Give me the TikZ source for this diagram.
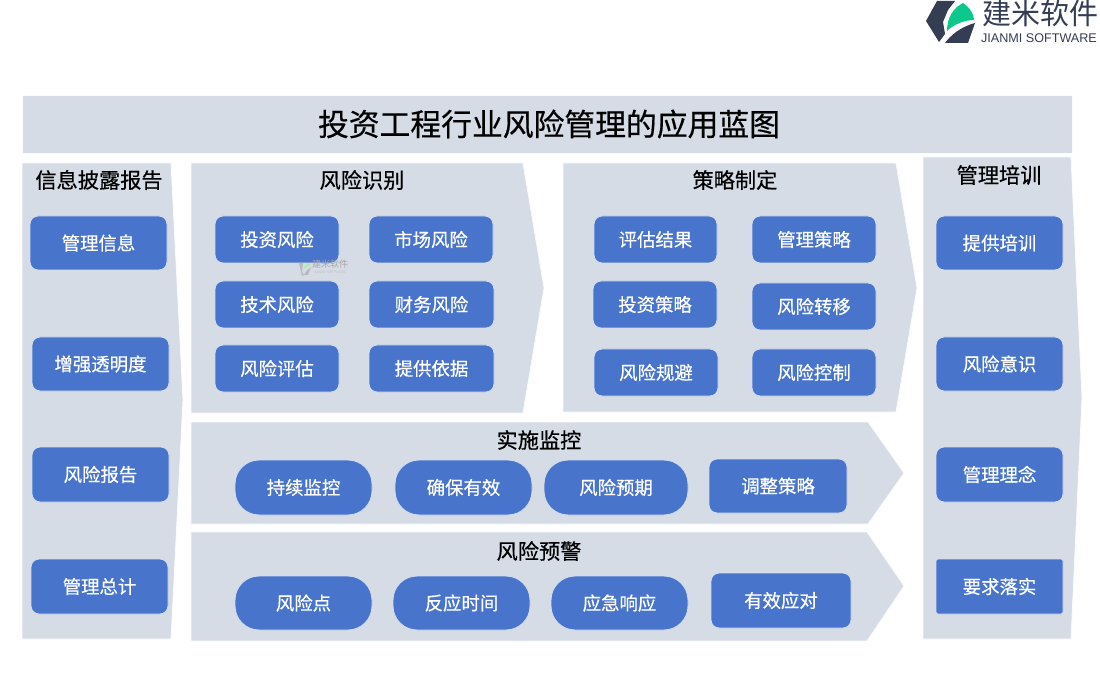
\documentclass[tikz,border=0pt]{standalone}
\usepackage{fontspec}
\setmainfont{Noto Sans CJK SC}
\setsansfont{Liberation Sans}
\newfontfamily\semib[FakeBold=0.5]{Noto Sans CJK SC}
\definecolor{panel}{HTML}{D6DCE5}
\definecolor{boxfill}{HTML}{4874CB}
\definecolor{boxline}{HTML}{D3DCEE}
\definecolor{logodark}{HTML}{353D55}
\definecolor{logogreen}{HTML}{0BC98A}
\tikzset{
  panelshape/.style={fill=panel,draw=white!90!panel,line width=0.8pt},
  boxbase/.style={fill=boxfill,draw=boxline,line width=0.9pt,text=white,inner sep=0pt,font=\semib\fontsize{18.4}{19}\selectfont},
  rbox/.style={boxbase,rounded corners=8pt},
  pillbox/.style={boxbase,rounded corners=24pt},
  flatbox/.style={boxbase,rounded corners=2pt},
  headtext/.style={text=black,inner sep=0pt,font=\semib\fontsize{21.2}{22}\selectfont},
}
\newcommand\bx[7]{\node[#7,minimum width={(#4-#2)*1pt},minimum height={(#5-#3)*1pt}] (#1) at ({(#2+#4)/2},{(#3+#5)/2}) {#6};}
\begin{document}
\begin{tikzpicture}[x=1pt,y=-1pt]
\useasboundingbox (0,0) rectangle (1100,700);
% panels
\node[panelshape,minimum width=1050pt,minimum height=58pt,inner sep=0pt] (title) at (547,124) {};
\node[text=black,inner sep=0pt,font=\semib\fontsize{30.8}{32}\selectfont] (titletext) at (549,124) {投资工程行业风险管理的应用蓝图};
\draw[panelshape] (22,163) -- (171,163) -- (183,400) -- (171,639) -- (22,639) -- cycle;
\draw[panelshape] (191,163) -- (523,163) -- (544,288) -- (523,413) -- (191,413) -- cycle;
\draw[panelshape] (563,163) -- (896,163) -- (917,288) -- (896,412) -- (563,412) -- cycle;
\draw[panelshape] (191,422) -- (868,422) -- (904,473) -- (868,524) -- (191,524) -- cycle;
\draw[panelshape] (191,532) -- (867,532) -- (904,586) -- (867,641) -- (191,641) -- cycle;
\draw[panelshape] (923,157) -- (1071,157) -- (1082,398) -- (1071,639) -- (923,639) -- cycle;
% headings
\node[headtext] (h1) at (99,180) {信息披露报告};
\node[headtext] (h2) at (362,180) {风险识别};
\node[headtext] (h3) at (735,180) {策略制定};
\node[headtext] (h4) at (999,175) {管理培训};
\node[headtext] (h5) at (539,440) {实施监控};
\node[headtext] (h6) at (539,551) {风险预警};
% left column
\bx{a1}{30}{216}{167}{270}{管理信息}{rbox}
\bx{a2}{32}{337}{169}{391}{增强透明度}{rbox}
\bx{a3}{32}{447}{169}{502}{风险报告}{rbox}
\bx{a4}{31}{559}{168}{614}{管理总计}{rbox}
% risk identification
\bx{b1}{215}{216}{339}{263}{投资风险}{rbox}
\bx{b2}{369}{216}{493}{263}{市场风险}{rbox}
\bx{b3}{215}{281}{339}{328}{技术风险}{rbox}
\bx{b4}{369}{281}{494}{328}{财务风险}{rbox}
\bx{b5}{215}{345}{339}{392}{风险评估}{rbox}
\bx{b6}{369}{345}{494}{392}{提供依据}{rbox}
% strategy
\bx{c1}{594}{216}{717}{263}{评估结果}{rbox}
\bx{c2}{752}{216}{876}{263}{管理策略}{rbox}
\bx{c3}{593}{281}{717}{328}{投资策略}{rbox}
\bx{c4}{752}{283}{876}{330}{风险转移}{rbox}
\bx{c5}{594}{349}{718}{396}{风险规避}{rbox}
\bx{c6}{752}{349}{876}{396}{风险控制}{rbox}
% monitoring
\bx{d1}{235}{460}{372}{515}{持续监控}{pillbox}
\bx{d2}{395}{460}{532}{515}{确保有效}{pillbox}
\bx{d3}{544}{460}{688}{515}{风险预期}{pillbox}
\bx{d4}{709}{459}{847}{513}{调整策略}{rbox}
% warning
\bx{e1}{235}{576}{372}{630}{风险点}{pillbox}
\bx{e2}{393}{576}{530}{630}{反应时间}{pillbox}
\bx{e3}{551}{576}{688}{630}{应急响应}{pillbox}
\bx{e4}{711}{573}{851}{628}{有效应对}{rbox}
% right column
\bx{f1}{936}{216}{1063}{270}{提供培训}{rbox}
\bx{f2}{936}{337}{1063}{391}{风险意识}{rbox}
\bx{f3}{936}{447}{1063}{502}{管理理念}{rbox}
\bx{f4}{936}{559}{1063}{614}{要求落实}{flatbox}
% logo
\fill[logodark] (937,1) -- (955,1) -- (948,10) -- (943,22) -- (945,34) -- (939,42) -- (926,21) -- cycle;
\fill[logogreen] (947,31) .. controls (947,18) and (953,8) .. (963,3) .. controls (970,8) and (974,14) .. (974,20) .. controls (965,20) and (954,24) .. cycle;
\fill[logodark] (975,23) -- (968,43) -- (945,43) .. controls (950,36) and (960,27) .. cycle;
\node[text=logodark,inner sep=0pt,font=\fontsize{29}{30}\selectfont] (brand) at (1040,13) {建米软件};
\node[text=logodark,inner sep=0pt,font=\sffamily\fontsize{12.6}{14}\selectfont] (brand2) at (1039,38) {JIANMI SOFTWARE};
% faint watermark
\fill[gray!55] (299,263) -- (303,263) -- (302,272) -- (304,275) -- (302,276) -- cycle;
\fill[gray!45!green!40] (304,269) .. controls (304,265) and (306,264) .. (309,263) -- (310,265) .. controls (307,266) and (306,268) .. cycle;
\fill[gray!55] (311,267) -- (308,275) -- (304,275) .. controls (306,271) and (308,269) .. cycle;
\node[text=gray!70,inner sep=0pt,font=\fontsize{9}{9}\selectfont] (wm) at (330,264) {建米软件};
\node[text=gray!50,inner sep=0pt,font=\sffamily\fontsize{3.5}{4}\selectfont] (wm2) at (330,272) {JIANMI SOFTWARE};
\end{tikzpicture}
\end{document}
